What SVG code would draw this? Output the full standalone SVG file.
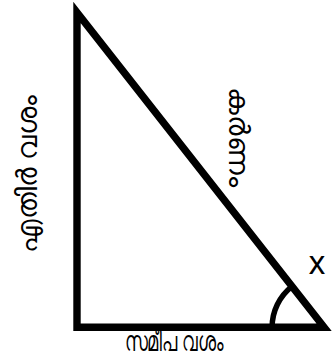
<svg xmlns="http://www.w3.org/2000/svg" width="334" height="360" viewBox="0 0 334 360">
<style>
.edge{fill:none;stroke:#000;stroke-width:7.4;stroke-linejoin:miter;stroke-miterlimit:10}
.arc{fill:none;stroke:#000;stroke-width:5.5}
.lbl{font-family:"Noto Sans","Liberation Sans",sans-serif;font-size:28px;fill:#000;text-anchor:middle}
</style>
<rect width="334" height="360" fill="#fff"/>
<g id="triangle">
<polygon class="edge" points="77,12.4 77,327.3 324.1,327.3"/>
</g>
<g id="connectors">
<path class="arc" d="M272.1 327.3 A52 52 0 0 1 292 286.4"/>
</g>
<g id="label-opposite"><text class="lbl" transform="translate(37 174) rotate(-90)" textLength="158" lengthAdjust="spacingAndGlyphs">എതിർ വശം</text></g>
<g id="label-hypotenuse"><text class="lbl" transform="translate(229 137) rotate(90)" textLength="100" lengthAdjust="spacingAndGlyphs">കർണം</text></g>
<g id="label-adjacent"><text class="lbl" x="174" y="351" textLength="99" lengthAdjust="spacingAndGlyphs">സമീപ വശം</text></g>
<g id="label-angle"><text class="lbl" x="317" y="273.5" style="font-size:32px">x</text></g>
</svg>
